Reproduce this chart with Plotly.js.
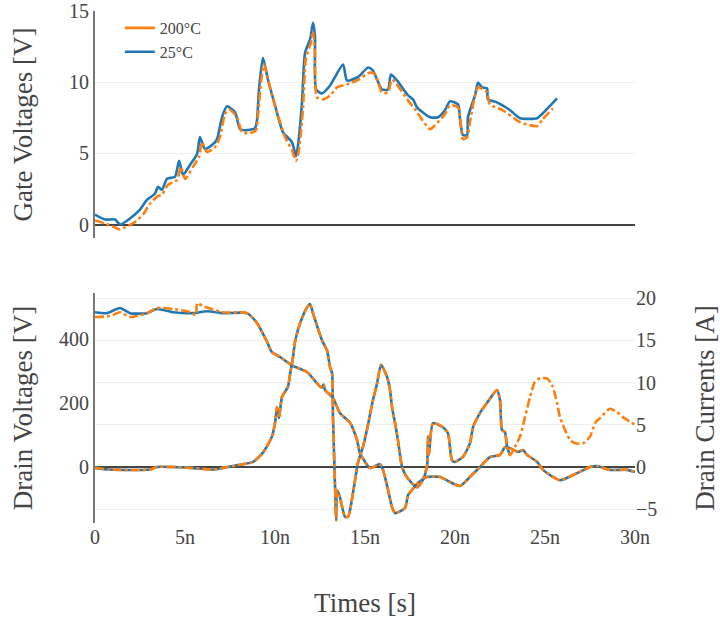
<!DOCTYPE html>
<html><head><meta charset="utf-8">
<script src="https://cdn.plot.ly/plotly-3.0.1.min.js"></script>
<style>html,body{margin:0;padding:0;background:#fff;}#plot{width:720px;height:622px;}</style>
</head><body><div id="plot"></div>
<script>
// times in ns
const tGate25 = [0,0.56,1.11,1.39,1.94,2.5,2.89,3.33,3.5,3.72,4.0,4.44,4.67,4.89,5.28,5.67,5.83,6.11,6.56,6.78,7.06,7.33,7.78,8.06,8.44,8.89,9.0,9.11,9.33,9.61,10.0,10.44,10.94,11.17,11.28,11.5,11.67,11.94,12.0,12.11,12.22,12.28,12.61,13.06,13.78,14.0,14.56,14.72,15.17,15.44,15.94,16.28,16.44,16.78,17.39,17.67,17.89,18.61,19.06,19.44,19.72,20.17,20.28,20.44,20.67,20.72,21.11,21.28,21.5,21.78,21.83,22.33,23.06,23.61,24.56,24.83,25.67];
const vGate25 = [0.7,0.35,0.35,0.0,0.42,1.05,1.74,2.16,2.65,2.44,3.21,3.35,4.47,3.49,4.19,4.95,6.14,5.3,5.65,6.0,7.54,8.3,7.89,6.7,6.63,6.77,7.33,9.49,11.72,10.19,8.37,6.49,5.79,4.81,5.58,8.58,12.07,12.98,13.33,14.17,13.26,9.49,9.21,9.77,11.24,10.12,10.33,10.47,11.03,10.82,9.49,9.49,10.54,10.12,9.07,8.79,8.23,7.54,7.54,8.03,8.65,8.44,7.4,6.28,6.28,7.54,9.07,9.98,9.63,9.56,8.79,8.58,8.03,7.47,7.47,7.75,8.86];

const tGate200 = [0,0.56,1.11,1.39,1.67,2.1,2.67,3.06,3.44,3.72,4.06,4.56,4.78,5.0,5.44,5.78,5.94,6.22,6.67,6.94,7.22,7.44,7.89,8.17,8.61,8.94,9.06,9.22,9.39,9.72,10.11,10.56,10.94,11.17,11.33,11.56,11.72,12.0,12.11,12.22,12.33,12.67,13.06,13.44,14.0,14.56,15.28,15.56,15.94,16.28,16.5,17.39,17.78,18.61,18.89,19.44,19.72,20.17,20.44,20.67,20.83,21.28,21.78,21.94,22.67,23.61,24.56,24.83,25.44];
const vGate200 = [0.28,0.07,-0.2,-0.35,-0.2,0.07,0.7,1.47,1.95,2.1,2.8,3.14,4.05,3.2,4.05,4.75,5.8,5.1,5.44,6.14,7.75,8.1,7.54,6.49,6.42,6.63,7.75,9.98,11.24,9.63,7.89,6.14,5.23,4.47,5.23,8.23,11.72,12.77,13.6,12.07,8.93,8.79,9.07,9.63,9.84,10.12,10.68,10.54,9.28,9.28,10.19,8.72,8.09,6.7,6.98,7.75,8.37,8.23,6.0,6.14,7.19,9.63,9.28,8.44,8.02,7.19,6.91,7.33,8.16];

const tVd25 = [0,0.67,1.39,1.94,2.89,3.44,4.33,5.44,6.22,7.11,8.44,9.0,9.56,9.83,10.28,11.0,11.78,12.33,12.6,12.7,12.78,13.22,13.61,14.17,14.56,14.72,15.28,15.83,16.0,16.28,16.5,16.67,17.22,17.39,17.61,17.94,18.44,19.17,19.72,20.28,20.83,21.39,21.94,22.5,22.78,23.06,23.5,23.78,24.0,24.56,24.89,25.83,26.78,27.5,27.89,28.61,29.56,30];
const vVd25 = [484,481,497,481,481,494,484,481,487,481,481,450,391,359,344,316,297,262,248,258,241,216,169,138,84,44,-3,9,-9,-72,-125,-144,-128,-88,-72,-50,-31,-31,-47,-59,-31,0,31,38,62,59,47,53,38,16,-9,-41,-19,0,3,-9,-9,-16];

const tVd200 = [0,0.83,1.39,1.94,2.89,3.44,4.33,5.28,5.61,5.67,6.0,7.11,8.44,9.0,9.56,9.83,10.28,11.0,11.78,12.33,12.6,12.7,12.78,13.22,13.61,14.17,14.56,14.72,15.28,15.83,16.0,16.28,16.5,16.67,17.22,17.39,17.61,17.94,18.44,19.17,19.72,20.28,20.83,21.39,21.94,22.5,22.78,23.06,23.5,23.78,24.0,24.56,24.89,25.83,26.78,27.5,27.89,28.61,29.56,30];
const vVd200 = [469,472,484,469,481,497,494,484,475,512,503,484,481,450,391,359,344,316,297,262,248,258,241,216,169,138,84,44,-3,9,-9,-72,-125,-144,-128,-88,-72,-50,-31,-31,-47,-59,-31,0,31,38,62,59,47,53,38,16,-9,-41,-19,0,3,-9,-9,-16];

const tId25 = [0,0.83,3.06,3.44,5.28,6.56,7.11,7.89,8.78,9.33,9.83,10.0,10.11,10.22,10.39,10.72,10.83,11.0,11.11,11.39,11.78,11.94,12.11,12.61,12.89,13.06,13.17,13.22,13.33,13.40,13.45,13.6,13.89,14.06,14.33,14.61,14.89,15.11,15.44,15.67,15.89,16.22,16.39,16.5,16.67,16.83,17.06,17.33,17.89,18.22,18.45,18.5,18.55,18.78,19.33,19.61,19.83,20.0,20.44,20.83,21.0,21.39,21.78,22.33,22.5,22.61,22.78,22.89,23.06];
const iId25 = [-0.1,-0.3,-0.3,0,-0.1,-0.3,-0.1,0.2,0.6,1.7,3.6,5.2,7.1,5.8,8.3,9.5,10.9,13.0,14.8,17.0,18.9,19.3,18.2,15.0,13.8,11.8,11.1,5.9,-1.9,-6.3,-2.8,-3.5,-5.9,-5.9,-3.1,0.5,2.4,4.4,7.9,9.9,12.1,10.7,9.1,7.1,5.2,3.2,0,-1.2,-2.4,-1.5,0.2,3.6,1.4,5.2,4.7,4.0,0.8,0.6,1.2,2.8,4.7,6.4,7.6,9.1,7.9,4.4,4.1,2.4,1.4];

const tId200 = [0,0.83,3.06,3.44,5.28,6.56,7.11,7.89,8.78,9.33,9.83,10.0,10.11,10.22,10.39,10.72,10.83,11.0,11.11,11.39,11.78,11.94,12.11,12.61,12.89,13.06,13.17,13.22,13.33,13.40,13.45,13.6,13.89,14.06,14.33,14.61,14.89,15.11,15.44,15.67,15.89,16.22,16.39,16.5,16.67,16.83,17.06,17.33,17.89,18.22,18.45,18.5,18.55,18.78,19.33,19.61,19.83,20.0,20.44,20.83,21.0,21.39,21.78,22.33,22.5,22.61,22.78,22.89,23.06,23.33,23.61,23.89,24.17,24.44,24.72,25.11,25.39,25.67,25.83,26.11,26.39,26.67,27.11,27.5,27.78,28.06,28.61,29.0,29.33,30.0];
const iId200 = [-0.1,-0.3,-0.3,0,-0.1,-0.3,-0.1,0.2,0.6,1.7,3.6,5.2,7.1,5.8,8.3,9.5,10.9,13.0,14.8,17.0,18.9,19.3,18.2,15.0,13.8,11.8,11.1,5.9,-1.9,-6.3,-2.8,-3.5,-5.9,-5.9,-3.1,0.5,2.4,4.4,7.9,9.9,12.1,10.7,9.1,7.1,5.2,3.2,0,-1.2,-2.4,-1.5,0.2,3.6,1.4,5.2,4.7,4.0,0.8,0.6,1.2,2.8,4.7,6.4,7.6,9.1,7.9,4.4,4.1,2.4,1.4,2.4,3.6,5.9,8.3,10.1,10.5,10.5,9.7,7.6,5.9,4.4,3.2,2.8,2.8,3.6,5.2,5.8,6.9,6.5,5.9,5.0];

const seriesNames = ['200°C', '25°C'];
const blue = '#1f77b4', orange = '#ff7f0e';
const ns = a => a.map(v => v * 1e-9);
const FONT = 'Liberation Serif, Times New Roman, serif';

const lineB = {color: blue, width: 2.6, shape: 'spline', smoothing: 0.6};
const lineO = {color: orange, width: 2.6, dash: 'dashdot', shape: 'spline', smoothing: 0.6};

const traces = [
  {x: ns(tGate25), y: vGate25, xaxis: 'x2', yaxis: 'y', mode: 'lines', line: lineB, name: seriesNames[1], showlegend: false},
  {x: ns(tVd25), y: vVd25, xaxis: 'x', yaxis: 'y2', mode: 'lines', line: lineB, name: seriesNames[1], showlegend: false},
  {x: ns(tId25), y: iId25, xaxis: 'x', yaxis: 'y3', mode: 'lines', line: lineB, name: seriesNames[1], showlegend: false},
  {x: ns(tGate200), y: vGate200, xaxis: 'x2', yaxis: 'y', mode: 'lines', line: lineO, name: seriesNames[0], showlegend: false},
  {x: ns(tVd200), y: vVd200, xaxis: 'x', yaxis: 'y2', mode: 'lines', line: lineO, name: seriesNames[0], showlegend: false},
  {x: ns(tId200), y: iId200, xaxis: 'x', yaxis: 'y3', mode: 'lines', line: lineO, name: seriesNames[0], showlegend: false},
  // legend entries (solid keys, as in the reference)
  {x: [null], y: [null], xaxis: 'x2', yaxis: 'y', mode: 'lines', line: {color: orange, width: 2.6}, name: seriesNames[0], legendrank: 1, showlegend: true},
  {x: [null], y: [null], xaxis: 'x2', yaxis: 'y', mode: 'lines', line: {color: blue, width: 2.6}, name: seriesNames[1], legendrank: 2, showlegend: true}
];

const tickFont = {family: FONT, size: 20, color: '#444'};
const titleFont = {family: FONT, size: 27, color: '#444'};

const layout = {
  width: 720, height: 622,
  margin: {l: 95, r: 85, t: 11, b: 99},
  paper_bgcolor: '#fff', plot_bgcolor: '#fff',
  font: {family: FONT, color: '#444'},
  showlegend: true,
  legend: {x: 0.046, y: 1.0, xanchor: 'left', yanchor: 'top', bgcolor: 'rgba(0,0,0,0)', font: {family: FONT, size: 16, color: '#444'}, tracegroupgap: 0},
  xaxis: {domain: [0, 1], anchor: 'y2', range: [0, 30e-9], dtick: 5e-9, tick0: 0, exponentformat: 'SI', showgrid: false, zeroline: false, showline: false, tickfont: tickFont, ticks: '',
    title: {text: 'Times [s]', font: titleFont, standoff: 46}},
  xaxis2: {domain: [0, 1], anchor: 'y', matches: 'x', range: [0, 30e-9], showticklabels: false, showgrid: false, zeroline: false, showline: false, ticks: ''},
  yaxis: {domain: [0.5566, 1], anchor: 'x2', range: [-0.95, 15.0], tickvals: [0, 5, 10, 15], ticklabeloverflow: 'allow', showgrid: true, gridcolor: '#eee', gridwidth: 1,
    zeroline: true, zerolinecolor: '#444', zerolinewidth: 2, showline: true, linecolor: '#777', linewidth: 2, tickfont: tickFont, ticks: '',
    title: {text: 'Gate Voltages [V]', font: titleFont, standoff: 29}},
  yaxis2: {domain: [0, 0.4492], anchor: 'x', range: [-175, 544], tickvals: [0, 200, 400], ticklabeloverflow: 'allow', showgrid: false,
    zeroline: true, zerolinecolor: '#444', zerolinewidth: 2, showline: true, linecolor: '#777', linewidth: 2, tickfont: tickFont, ticks: '',
    title: {text: 'Drain Voltages [V]', font: titleFont, standoff: 19}},
  yaxis3: {overlaying: 'y2', side: 'right', anchor: 'x', range: [-6.63, 20.6], tickvals: [-5, 0, 5, 10, 15, 20], ticklabeloverflow: 'allow', showgrid: true, gridcolor: '#eee', gridwidth: 1,
    zeroline: false, showline: false, tickfont: tickFont, ticks: '',
    title: {text: 'Drain Currents [A]', font: titleFont, standoff: 38}}
};

Plotly.newPlot('plot', traces, layout, {displayModeBar: false, staticPlot: true});
</script></body></html>
